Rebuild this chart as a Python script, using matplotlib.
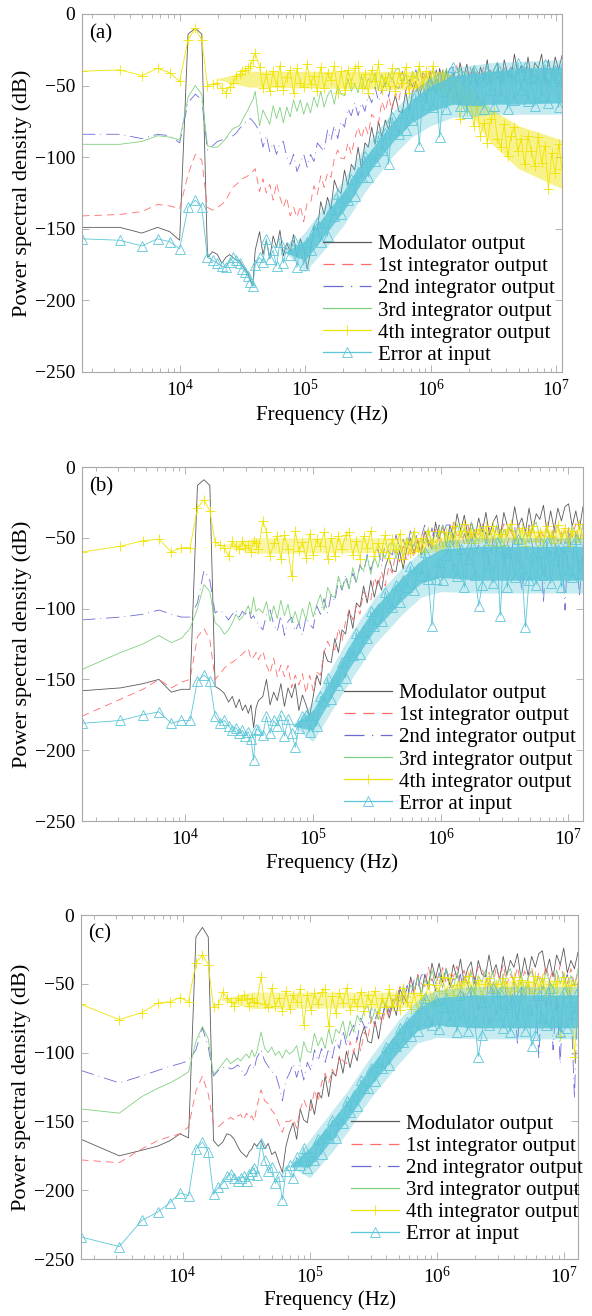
import numpy as np
import matplotlib
matplotlib.use('Agg')
import matplotlib.pyplot as plt
from matplotlib.ticker import LogLocator, FixedLocator, NullFormatter, LogFormatterMathtext

plt.rcParams['font.family'] = ['Liberation Serif', 'DejaVu Serif']
plt.rcParams['mathtext.fontset'] = 'custom'
plt.rcParams['mathtext.rm'] = 'Liberation Serif'
plt.rcParams['mathtext.it'] = 'Liberation Serif:italic'
plt.rcParams['mathtext.bf'] = 'Liberation Serif:bold'

labels = ['Modulator output', '1st integrator output', '2nd integrator output',
          '3rd integrator output', '4th integrator output', 'Error at input']
y_ticks = [-250, -200, -150, -100, -50, 0]
x_major = [1e4, 1e5, 1e6, 1e7]

# ---------------- panel (a) ----------------
a_df = 1660.0
a_fmax = 1.11e7
a_mod_low = [-149,-149,-153,-149,-152,-158,-14,-10,-14,-170,-166,-168,-174,-170,-168,-170,-172,-172,-176,-178,-181,-186,-190,-165]
a_mod_high = [-152,-168,-158,-171,-155,-163,-151,-169,-160,-166,
              -154,-170,-157,-164,-178,-166,-148,-151,-131,-140,
              -128,-137,-116,-123,-125,-109,-120,-105,-109,-93,
              -108,-90,-93,-79,-91,-75,-86,-74,-81,-65,
              -57,-68,-69,-54,-68,-55,-47,-58,-49,-60,
              -43,-50,-56,-38,-50,-40,-55,-41,-50,-34,
              -45,-35,-50,-39,-51,-37,-46,-32,-49,-39,
              -34,-50,-32,-42,-45,-28,-42,-36,-47,-30,
              -45,-34,-38,-28,-47,-32,-44,-30,-39,-29]
a_int1_low = [-141,-140,-138,-133,-134,-136,-112,-98,-102,-135,-137,-135,-133,-130,-125,-121,-119,-117,-115,-114,-113,-111,-110,-108]
a_int1_high = [-124,-115,-125,-119,-130,-118,-128,-135,-128,-141,
               -135,-142,-134,-145,-132,-132,-120,-126,-113,-121,
               -111,-114,-101,-95,-101,-101,-90,-98,-87,-79,
               -87,-78,-84,-70,-73,-76,-61,-68,-58,-67,
               -55,-60,-48,-54,-46,-55,-47,-54,-43,-50,
               -40,-51,-44,-40,-50,-38,-45,-47,-36,-46,
               -42,-49,-37,-48,-40,-44,-37,-50,-39,-49,
               -39,-45,-38,-37,-48,-41,-50,-39,-44,-36,
               -49,-42,-47,-38,-49,-40,-45,-37,-50,-42]
a_int2_low = [-84,-84,-87,-84,-85,-90,-62,-56,-60,-95,-92,-89,-88,-86,-86,-85,-83,-80,-78,-76,-74,-73,-75,-77]
a_int2_high = [-82,-93,-85,-96,-90,-98,-90,-89,-100,-105,
               -98,-110,-104,-98,-107,-98,-103,-90,-93,-96,
               -81,-88,-78,-87,-75,-79,-66,-71,-62,-71,
               -62,-68,-56,-62,-51,-61,-53,-48,-58,-45,
               -51,-52,-40,-49,-45,-51,-39,-49,-41,-44,
               -37,-50,-39,-49,-39,-45,-38,-37,-48,-41,
               -50,-39,-44,-36,-49,-42,-47,-38,-49,-40,
               -45,-37,-50,-42,-37,-48,-40,-44,-37,-47,
               -38,-49,-42,-49,-39,-50,-41,-47,-37,-50]
a_int3_low = [-91,-91,-89,-85,-86,-88,-58,-50,-56,-92,-93,-93,-90,-87,-83,-80,-79,-78,-74,-70,-67,-63,-60,-54]
a_int3_high = [-78,-67,-72,-77,-64,-73,-65,-76,-65,-72,
               -60,-68,-60,-70,-62,-69,-58,-65,-54,-65,
               -57,-53,-63,-50,-56,-57,-45,-54,-49,-55,
               -43,-53,-45,-48,-41,-53,-42,-51,-41,-46,
               -39,-38,-49,-42,-51,-40,-45,-37,-50,-43,
               -48,-39,-50,-41,-46,-38,-51,-43,-48,-38,
               -47,-40,-50,-37,-45,-49,-40,-50,-42,-48,
               -38,-51,-41,-45,-38,-48,-39,-50,-43,-50,
               -40,-37,-46,-49,-40,-51,-43,-38,-48,-42]
a_int4_low = [-40,-39,-43,-38,-41,-47,-18,-10,-18,-50,-49,-48,-52,-55,-51,-48,-43,-42,-40,-39,-38,-36,-32,-27]
a_int4_high = [-37,-52,-42,-54,-40,-50,-36,-53,-44,-39,
               -55,-38,-48,-51,-35,-49,-43,-54,-37,-52,
               -41,-46,-36,-55,-40,-53,-39,-48,-38,-36,
               -52,-42,-55,-39,-47,-35,-53,-44,-50,-38,
               -54,-41,-48,-37,-55,-43,-51,-36,-49,-40,
               -53,-36,-47,-54,-42,-58,-47,-60,-48,-73,
               -58,-68,-56,-78,-64,-85,-76,-90,-73,-68,
               -87,-93,-77,-99,-85,-79,-96,-87,-105,-85,
               -96,-106,-86,-104,-92,-122,-97,-111,-91,-108]
a_err_low = [-157,-158,-162,-157,-159,-164,-135,-130,-135,-170,-172,-174,-176,-177,-173,-170,-172,-174,-178,-180,-183,-187,-190,-175]
a_err_high = [-170,-173,-157,-171,-165,-176,-159,-174,-163,-168,
              -158,-177,-162,-175,-159,-165,-151,-146,-159,-146,
              -155,-136,-141,-126,-140,-128,-130,-115,-127,-110,
              -114,-99,-114,-98,-103,-85,-95,-83,-105,-72,
              -81,-84,-69,-81,-67,-74,-56,-92,-57,-63,
              -49,-65,-49,-86,-54,-66,-46,-37,-58,-64,
              -43,-69,-50,-39,-60,-47,-66,-40,-53,-64,
              -37,-57,-41,-66,-44,-60,-34,-53,-37,-61,
              -45,-64,-41,-57,-35,-62,-47,-39,-65,-38]
# envelopes of the dense noise clouds (inner = dense core, outer = sparse fringe)
a_int4_env_f = [2e4, 3.5e4, 1.3e6, 2e6, 3e6, 5e6, 1.11e7]
a_int4_env_lo = [-46, -51, -53, -68, -90, -108, -122]
a_int4_env_hi = [-45, -40, -40, -50, -66, -78, -88]
a_err_env_f = [7e4, 1e5, 1.5e5, 2e5, 3e5, 5e5, 7e5, 1e6, 1.5e6, 2e6, 3e6, 5e6, 1.11e7]
a_err_env_lo = [-167, -172, -152, -138, -114, -89, -76, -68, -63, -64, -63, -63, -62]
a_err_env_hi = [-166, -158, -138, -124, -100, -75, -60, -50, -43, -42, -40, -38, -37]
a_err_out_lo = [-167, -180, -162, -148, -124, -99, -86, -78, -72, -72, -70, -70, -70]
a_err_out_hi = [-166, -152, -131, -116, -92, -68, -54, -44, -37, -36, -34, -33, -32]

# ---------------- panel (b) ----------------
b_df = 1565.0
b_fmax = 1.3e7
b_mod_low = [-158,-156,-153,-150,-159,-157,-157,-13,-9,-13,-155,-157,-160,-166,-162,-170,-164,-172,-168,-174,-168,-184,-170,-165]
b_mod_high = [-162,-150,-168,-159,-165,-153,-169,-156,-163,-153,
              -172,-161,-168,-176,-162,-147,-154,-130,-137,-138,
              -121,-131,-115,-118,-101,-114,-96,-99,-84,-96,
              -80,-92,-80,-87,-71,-63,-73,-74,-59,-72,
              -58,-50,-61,-52,-62,-45,-52,-58,-39,-51,
              -41,-56,-41,-50,-33,-45,-34,-49,-39,-50,
              -36,-46,-32,-48,-39,-34,-50,-32,-42,-45,
              -28,-42,-36,-46,-29,-44,-33,-37,-27,-46,
              -31,-44,-29,-38,-28,-26,-42,-31,-44,-28]
b_int1_low = [-176,-164,-157,-150,-156,-152,-150,-120,-114,-122,-150,-146,-142,-139,-138,-136,-134,-132,-130,-128,-136,-134,-131,-136]
b_int1_high = [-130,-140,-146,-135,-148,-140,-148,-140,-156,-147,
               -154,-146,-160,-147,-158,-145,-147,-131,-123,-129,
               -129,-114,-123,-109,-101,-108,-98,-104,-88,-92,
               -94,-78,-85,-74,-84,-70,-75,-59,-67,-56,
               -66,-56,-64,-51,-58,-45,-57,-49,-44,-56,
               -41,-49,-52,-39,-50,-45,-54,-41,-53,-44,
               -48,-40,-55,-43,-53,-42,-49,-40,-54,-45,
               -53,-39,-53,-46,-51,-41,-55,-44,-49,-41,
               -52,-41,-53,-46,-54,-43,-50,-40,-53,-43]
b_int2_low = [-108,-106,-104,-101,-104,-106,-106,-96,-73,-80,-103,-101,-104,-108,-104,-101,-106,-102,-104,-99,-107,-105,-109,-111]
b_int2_high = [-115,-104,-101,-111,-116,-105,-119,-109,-106,-116,
               -110,-119,-106,-111,-114,-98,-104,-93,-103,-90,
               -95,-80,-87,-76,-86,-75,-82,-69,-75,-62,
               -73,-64,-58,-70,-54,-60,-62,-48,-57,-51,
               -59,-45,-56,-46,-50,-41,-56,-43,-53,-41,
               -48,-41,-41,-55,-48,-59,-47,-55,-46,-61,
               -55,-64,-46,-70,-50,-60,-44,-71,-53,-65,
               -42,-62,-88,-68,-41,-57,-66,-47,-96,-51,
               -63,-44,-71,-50,-101,-42,-65,-46,-92,-55]
b_int3_low = [-143,-131,-125,-119,-124,-121,-114,-100,-83,-88,-110,-113,-118,-115,-110,-104,-108,-106,-102,-98,-104,-92,-102,-100]
b_int3_high = [-103,-95,-109,-98,-107,-94,-105,-97,-110,-102,
               -111,-100,-108,-95,-106,-97,-90,-101,-85,-91,
               -92,-77,-86,-79,-86,-71,-81,-70,-73,-63,
               -76,-63,-71,-59,-64,-55,-53,-65,-55,-64,
               -50,-56,-45,-58,-50,-54,-43,-56,-45,-50,
               -41,-55,-45,-52,-40,-50,-43,-53,-39,-48,
               -53,-42,-54,-45,-51,-41,-55,-44,-49,-40,
               -52,-41,-53,-46,-54,-43,-39,-49,-53,-42,
               -55,-45,-41,-51,-45,-54,-41,-48,-53,-40]
b_int4_low = [-60,-56,-52,-51,-60,-57,-57,-29,-23,-31,-53,-55,-57,-63,-52,-56,-58,-52,-57,-55,-60,-52,-54,-58]
b_int4_high = [-38,-46,-63,-54,-49,-65,-48,-58,-77,-45,
               -59,-53,-64,-47,-62,-51,-56,-46,-65,-50,
               -63,-49,-58,-48,-46,-62,-52,-65,-49,-57,
               -45,-63,-54,-60,-48,-64,-51,-58,-47,-65,
               -53,-61,-46,-59,-50,-60,-45,-53,-57,-45,
               -56,-46,-52,-42,-56,-45,-40,-54,-46,-54,
               -44,-50,-42,-55,-42,-56,-47,-55,-44,-40,
               -50,-54,-43,-56,-46,-42,-52,-46,-55,-42,
               -49,-54,-41,-51,-43,-56,-45,-53,-40,-50]
b_err_low = [-181,-179,-175,-173,-181,-179,-179,-151,-147,-151,-176,-181,-179,-183,-186,-184,-188,-186,-190,-187,-192,-207,-185,-186]
b_err_high = [-189,-176,-188,-179,-183,-175,-190,-178,-188,-198,
              -184,-176,-175,-187,-175,-183,-162,-165,-149,-164,
              -151,-154,-138,-149,-131,-133,-117,-132,-116,-121,
              -102,-112,-100,-109,-88,-96,-99,-83,-95,-80,
              -85,-70,-87,-71,-76,-60,-79,-112,-79,-67,
              -80,-62,-55,-72,-77,-58,-85,-65,-54,-76,
              -98,-83,-56,-70,-82,-53,-105,-58,-85,-61,
              -78,-51,-71,-113,-80,-63,-83,-60,-76,-53,
              -82,-66,-58,-85,-56,-73,-78,-51,-75,-65]
b_int4_env_f = [2e4, 3.5e4, 1e6, 1.5e6, 1.3e7]
b_int4_env_lo = [-56, -61, -60, -53, -53]
b_int4_env_hi = [-55, -50, -50, -44, -44]
b_err_env_f = [7e4, 1e5, 1.5e5, 2e5, 3e5, 5e5, 7e5, 1e6, 2e6, 1.3e7]
b_err_env_lo = [-183, -186, -158, -140, -116, -94, -82, -78, -80, -80]
b_err_env_hi = [-182, -172, -144, -124, -100, -78, -66, -58, -56, -56]
b_err_out_lo = [-183, -194, -168, -150, -126, -104, -92, -88, -89, -89]
b_err_out_hi = [-182, -166, -137, -117, -93, -71, -60, -52, -50, -50]

# ---------------- panel (c) ----------------
c_df = 1590.0
c_fmax = 1.28e7
c_mod_low = [-163,-175,-171,-168,-164,-159,-162,-16,-9,-16,-164,-168,-165,-159,-160,-163,-168,-172,-174,-176,-172,-170,-166,-168]
c_mod_high = [-164,-170,-166,-174,-172,-180,-187,-168,-158,-151,
              -163,-141,-149,-151,-134,-145,-129,-133,-117,-132,
              -114,-117,-103,-115,-99,-111,-99,-106,-89,-81,
              -92,-93,-77,-90,-74,-65,-75,-64,-73,-54,
              -59,-64,-45,-56,-44,-58,-43,-52,-35,-46,
              -35,-49,-39,-51,-36,-46,-32,-49,-39,-34,
              -50,-33,-43,-45,-29,-43,-36,-47,-30,-44,
              -33,-38,-28,-46,-31,-44,-30,-38,-28,-26,
              -42,-32,-45,-29,-36,-24,-42,-33,-39,-27]
c_int1_low = [-178,-180,-170,-164,-161,-159,-154,-128,-117,-130,-152,-154,-151,-149,-147,-149,-146,-145,-149,-144,-148,-146,-150,-140]
c_int1_high = [-127,-135,-137,-142,-145,-152,-158,-150,-150,-148,
               -155,-141,-134,-141,-142,-127,-136,-122,-115,-122,
               -112,-118,-102,-106,-108,-92,-100,-89,-99,-85,
               -90,-74,-81,-70,-79,-68,-75,-61,-66,-52,
               -62,-53,-47,-58,-43,-50,-52,-38,-48,-42,
               -51,-38,-50,-41,-45,-37,-52,-40,-50,-39,
               -46,-38,-37,-50,-42,-52,-39,-46,-36,-50,
               -43,-48,-38,-51,-41,-46,-38,-52,-42,-49,
               -37,-47,-40,-50,-36,-45,-50,-39,-51,-42]
c_int2_low = [-113,-122,-117,-113,-110,-108,-106,-98,-82,-96,-117,-113,-111,-110,-112,-111,-109,-111,-117,-115,-110,-108,-112,-104]
c_int2_high = [-98,-106,-110,-114,-115,-124,-135,-120,-115,-108,
               -118,-109,-120,-107,-113,-98,-106,-97,-107,-97,
               -104,-91,-97,-84,-95,-86,-80,-91,-75,-81,
               -82,-67,-76,-69,-76,-61,-71,-60,-62,-52,
               -65,-51,-60,-47,-53,-44,-42,-54,-45,-55,
               -42,-49,-39,-53,-46,-51,-43,-61,-50,-59,
               -46,-73,-55,-67,-44,-64,-50,-70,-43,-60,
               -68,-49,-95,-53,-65,-46,-73,-52,-104,-44,
               -67,-47,-98,-56,-108,-50,-43,-62,-133,-49]
c_int3_low = [-141,-144,-132,-126,-122,-118,-114,-92,-81,-90,-116,-112,-108,-104,-108,-106,-104,-106,-103,-101,-104,-98,-103,-100]
c_int3_high = [-85,-97,-100,-96,-102,-99,-104,-98,-101,-99,
               -95,-107,-92,-99,-100,-86,-95,-89,-97,-83,
               -94,-83,-86,-77,-90,-77,-85,-73,-78,-69,
               -66,-78,-68,-76,-61,-67,-56,-68,-59,-63,
               -51,-63,-51,-54,-45,-58,-47,-53,-40,-50,
               -43,-53,-39,-48,-53,-42,-54,-45,-51,-41,
               -55,-44,-49,-40,-52,-41,-53,-46,-54,-43,
               -39,-49,-53,-42,-55,-45,-41,-51,-45,-54,
               -41,-48,-53,-40,-50,-42,-55,-44,-52,-39]
c_int4_low = [-65,-76,-71,-64,-63,-60,-63,-35,-29,-36,-67,-65,-56,-60,-63,-66,-60,-62,-58,-61,-66,-60,-63,-64]
c_int4_high = [-45,-65,-67,-53,-66,-60,-70,-55,-68,-58,
               -63,-54,-80,-58,-69,-57,-65,-56,-54,-81,
               -59,-71,-57,-64,-53,-69,-61,-66,-56,-70,
               -58,-65,-55,-71,-60,-67,-54,-66,-58,-69,
               -53,-63,-68,-57,-70,-58,-62,-50,-63,-51,
               -55,-45,-57,-46,-58,-51,-59,-48,-44,-54,
               -58,-47,-60,-50,-46,-56,-50,-59,-46,-53,
               -58,-45,-55,-47,-60,-49,-57,-44,-54,-46,
               -58,-50,-59,-48,-88,-45,-58,-51,-103,-60]
c_err_low = [-234,-241,-222,-216,-209,-202,-204,-170,-165,-172,-203,-198,-195,-190,-188,-191,-193,-191,-190,-193,-188,-186,-184,-189]
c_err_high = [-166,-178,-186,-183,-195,-190,-207,-186,-182,-191,
              -176,-182,-169,-184,-175,-178,-163,-174,-159,-162,
              -149,-162,-148,-151,-135,-143,-131,-139,-120,-126,
              -126,-111,-121,-107,-111,-96,-109,-93,-95,-82,
              -92,-78,-88,-77,-84,-68,-60,-76,-80,-62,
              -83,-67,-60,-77,-66,-85,-58,-72,-84,-55,
              -77,-103,-87,-63,-80,-53,-73,-56,-82,-65,
              -85,-61,-78,-55,-84,-68,-95,-87,-58,-75,
              -80,-53,-77,-67,-85,-56,-82,-63,-72,-55]
c_int4_env_f = [2e4, 3.5e4, 1e6, 1.5e6, 1.28e7]
c_int4_env_lo = [-62, -68, -67, -58, -57]
c_int4_env_hi = [-61, -56, -56, -48, -47]
c_err_env_f = [7e4, 1e5, 1.5e5, 2e5, 3e5, 5e5, 7e5, 1e6, 2e6, 1.28e7]
c_err_env_lo = [-183, -183, -163, -148, -124, -99, -84, -80, -82, -82]
c_err_env_hi = [-182, -169, -149, -134, -110, -83, -68, -60, -58, -58]
c_err_out_lo = [-183, -191, -172, -157, -133, -108, -93, -89, -90, -90]
c_err_out_hi = [-182, -163, -142, -127, -103, -76, -62, -54, -52, -52]

# ---------------- styles ----------------
styles = [
    dict(color='#5a5a5a', ls='-', marker=None),
    dict(color='#ff6b6b', ls=(0, (9, 6)), marker=None),
    dict(color='#6b6bd6', ls=(0, (16, 6, 1.0, 6)), marker=None),
    dict(color='#80d080', ls='-', marker=None),
    dict(color='#f0e400', ls='-', marker='+'),
    dict(color='#5cc6d8', ls='-', marker='^'),
]

panels = [
    dict(tag='(a)', df=a_df, fmax=a_fmax, rect=[82, 14, 562, 372], leg=(1.0, 0.0),
         data=[(a_mod_low, a_mod_high), (a_int1_low, a_int1_high), (a_int2_low, a_int2_high),
               (a_int3_low, a_int3_high), (a_int4_low, a_int4_high), (a_err_low, a_err_high)],
         env={4: [(a_int4_env_f, a_int4_env_lo, a_int4_env_hi, 0.45)],
              5: [(a_err_env_f, a_err_out_lo, a_err_out_hi, 0.35),
                  (a_err_env_f, a_err_env_lo, a_err_env_hi, 0.85)]}),
    dict(tag='(b)', df=b_df, fmax=b_fmax, rect=[82, 467, 583, 821], leg=(1.0, 0.0),
         data=[(b_mod_low, b_mod_high), (b_int1_low, b_int1_high), (b_int2_low, b_int2_high),
               (b_int3_low, b_int3_high), (b_int4_low, b_int4_high), (b_err_low, b_err_high)],
         env={4: [(b_int4_env_f, b_int4_env_lo, b_int4_env_hi, 0.35)],
              5: [(b_err_env_f, b_err_out_lo, b_err_out_hi, 0.35),
                  (b_err_env_f, b_err_env_lo, b_err_env_hi, 0.85)]}),
    dict(tag='(c)', df=c_df, fmax=c_fmax, rect=[81, 915, 578, 1259], leg=(1.025, 0.022),
         data=[(c_mod_low, c_mod_high), (c_int1_low, c_int1_high), (c_int2_low, c_int2_high),
               (c_int3_low, c_int3_high), (c_int4_low, c_int4_high), (c_err_low, c_err_high)],
         env={4: [(c_int4_env_f, c_int4_env_lo, c_int4_env_hi, 0.35)],
              5: [(c_err_env_f, c_err_out_lo, c_err_out_hi, 0.35),
                  (c_err_env_f, c_err_env_lo, c_err_env_hi, 0.85)]}),
]

W, H = 592, 1316
fig = plt.figure(figsize=(W / 100, H / 100), dpi=100)
axis_gray = '#a8a8a8'

for p in panels:
    l, t, r, b = p['rect']
    ax = fig.add_axes([l / W, 1 - b / H, (r - l) / W, (b - t) / H])
    df = p['df']
    handles = []
    for idx, ((low, high), st, lab) in enumerate(zip(p['data'], styles, labels)):
        z = 2 + idx * 0.1
        k_low = np.arange(1, len(low) + 1)
        k_high = np.geomspace(26, p['fmax'] / df, len(high))
        f = np.concatenate([k_low, k_high]) * df
        v = np.concatenate([np.array(low, float), np.array(high, float)])
        for ef, elo, ehi, ea in p['env'].get(idx, []):
            ax.fill_between(ef, elo, ehi, color=st['color'], alpha=ea, linewidth=0, zorder=z)
        kw = dict(color=st['color'], linestyle=st['ls'], linewidth=0.6, label=lab, zorder=z)
        if st['marker'] == '+':
            kw.update(marker='+', markersize=7, markeredgewidth=0.6)
        elif st['marker'] == '^':
            kw.update(marker='^', markersize=6.5, markeredgewidth=0.6, markerfacecolor='none')
        h, = ax.plot(f, v, **kw)
        handles.append(h)
    ax.set_xscale('log')
    ax.set_xlim(df, p['fmax'])
    ax.set_ylim(-250, 0)
    ax.yaxis.set_major_locator(FixedLocator(y_ticks))
    ax.xaxis.set_major_locator(FixedLocator(x_major))
    ax.xaxis.set_major_formatter(LogFormatterMathtext())
    ax.xaxis.set_minor_locator(LogLocator(base=10, subs=np.arange(2, 10), numticks=20))
    ax.xaxis.set_minor_formatter(NullFormatter())
    for s in ax.spines.values():
        s.set_color(axis_gray)
        s.set_linewidth(0.8)
        s.set_zorder(5)
    ax.tick_params(which='both', direction='in', top=True, right=True, color=axis_gray, width=0.6)
    ax.tick_params(which='major', length=5, labelsize=14, pad=5)
    ax.tick_params(which='minor', length=3)
    ax.set_xlabel('Frequency (Hz)', fontsize=15)
    ax.set_ylabel('Power spectral density (dB)', fontsize=16)
    ax.xaxis.label.set_verticalalignment('center')
    ax.yaxis.label.set_verticalalignment('center')
    ax.xaxis.set_label_coords(0.5, -0.12)
    ax.yaxis.set_label_coords(-60 / (r - l), 0.5)
    ax.text(0.015, 0.945, p['tag'], transform=ax.transAxes, fontsize=15, ha='left', va='center')
    leg = ax.legend(handles=handles, loc='lower right', bbox_to_anchor=p['leg'], frameon=False,
                    fontsize=15, numpoints=1, handlelength=2.3, handletextpad=0.35,
                    labelspacing=0.12, borderaxespad=0.15, borderpad=0.2)
    for ln in leg.get_lines():
        ln.set_linewidth(0.9)
    leg.set_zorder(6)

fig.savefig('out.png', dpi=100)
